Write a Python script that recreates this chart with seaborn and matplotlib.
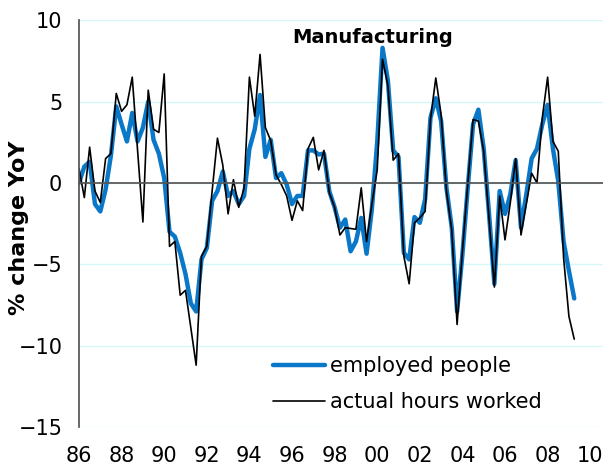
import numpy as np
import pandas as pd
import seaborn as sns
import matplotlib.pyplot as plt

# quarterly YoY % changes, 1986Q1 .. 2009Q2
START_YEAR = 1986
EMPLOYED = [
    0.0, 1.0, 1.3, -1.3, -1.75, -0.4, 1.7, 4.7, 3.6, 2.55,
    4.3, 2.55, 3.4, 5.0, 2.65, 1.8, 0.3, -3.0, -3.3, -4.3,
    -5.6, -7.4, -7.9, -4.7, -4.0, -1.1, -0.5, 0.7, -0.8, -0.5,
    -1.3, -0.8, 2.1, 3.3, 5.4, 1.6, 2.65, 0.3, 0.6, -0.1,
    -1.3, -0.8, -0.8, 2.0, 2.0, 1.75, 1.8, -0.5, -1.5, -2.75,
    -2.25, -4.2, -3.6, -2.15, -4.35, -1.6, 2.5, 8.3, 6.3, 2.0,
    1.6, -4.3, -4.7, -2.1, -2.45, -1.0, 4.0, 5.2, 3.8, -0.3,
    -2.75, -7.9, -4.4, -0.3, 3.6, 4.5, 2.1, -1.9, -6.2, -0.5,
    -1.9, -0.7, 1.4, -2.75, -0.7, 1.5, 2.1, 3.6, 4.8, 2.1,
    0.1, -3.6, -5.4, -7.1,
]
HOURS = [
    0.9, -0.9, 2.2, -0.5, -1.2, 1.5, 1.8, 5.5, 4.4, 4.8,
    6.5, 2.0, -2.4, 5.7, 3.3, 3.1, 6.7, -3.9, -3.6, -6.9,
    -6.6, -8.9, -11.2, -4.5, -3.9, -0.5, 2.75, 1.1, -1.9, 0.2,
    -1.5, -0.3, 6.5, 4.1, 7.9, 3.4, 2.6, 0.5, -0.1, -0.8,
    -2.3, -1.1, -1.7, 2.1, 2.8, 0.8, 2.0, -0.6, -1.5, -3.2,
    -2.75, -2.8, -2.85, -0.3, -3.6, -1.3, 0.8, 7.6, 6.0, 1.4,
    1.8, -4.5, -6.2, -2.45, -2.15, -1.75, 3.9, 6.45, 4.2, -0.5,
    -2.9, -8.7, -4.2, -0.1, 3.9, 3.8, 1.95, -2.2, -6.4, -0.8,
    -3.5, -1.2, 1.5, -3.2, -1.3, 0.6, 0.0, 4.0, 6.5, 2.55,
    1.95, -4.6, -8.2, -9.6,
]
YEAR_TICKS = list(range(1986, 2011, 2))
YEAR_LABELS = [f"{y % 100:02d}" for y in YEAR_TICKS]
Y_TICKS = [10, 5, 0, -5, -10, -15]

BLUE = '#0A78C8'
AXIS_GREY = '#555555'

sns.set_theme(style="white")
plt.rcParams['font.family'] = ['DejaVu Sans']
plt.rcParams['text.color'] = 'black'
plt.rcParams['axes.labelcolor'] = 'black'
plt.rcParams['xtick.color'] = 'black'
plt.rcParams['ytick.color'] = 'black'

df = pd.DataFrame({
    'quarter': START_YEAR + np.arange(len(EMPLOYED)) / 4,
    'employed': EMPLOYED,
    'hours': HOURS,
})

fig, ax = plt.subplots(figsize=(6.03, 4.70), dpi=100)
fig.subplots_adjust(left=0.131, right=1.0, top=0.957, bottom=0.0915)

sns.lineplot(data=df, x='quarter', y='employed', color=BLUE, linewidth=3.2,
             label='employed people', ax=ax)
sns.lineplot(data=df, x='quarter', y='hours', color='black', linewidth=1.2,
             label='actual hours worked', ax=ax)

ax.set_xlim(1986, 2010.6)
ax.set_ylim(-15, 10)
ax.set_yticks(Y_TICKS)
ax.set_axisbelow(True)
ax.yaxis.grid(True, color='#D6F8F8', linewidth=1)
ax.xaxis.grid(False)

for side in ('top', 'right'):
    ax.spines[side].set_visible(False)
ax.spines['left'].set_color(AXIS_GREY)
ax.spines['bottom'].set_position(('data', 0))
ax.spines['bottom'].set_color(AXIS_GREY)

# tick marks on the zero line, labels at the bottom
ax.set_xticks(YEAR_TICKS)
ax.tick_params(axis='x', direction='out', length=5, color=AXIS_GREY, labelbottom=False)
ax.tick_params(axis='y', direction='out', length=5, color=AXIS_GREY, labelsize=15, pad=7)
sec = ax.secondary_xaxis('bottom')
sec.set_xticks(YEAR_TICKS, YEAR_LABELS)
sec.tick_params(length=0, pad=14, labelsize=15)
sec.spines['bottom'].set_visible(False)

ax.set_xlabel('')
ax.set_ylabel('% change YoY', fontsize=16, fontweight='bold')
ax.yaxis.set_label_coords(-0.095, 0.49)

ax.text(0.56, 0.958, 'Manufacturing', transform=ax.transAxes, ha='center', va='center',
        fontsize=14, fontweight='bold')

ax.legend(loc='lower left', bbox_to_anchor=(0.37, 0.037), frameon=False, fontsize=15,
          handlelength=2.5, handletextpad=0.25, labelspacing=0.75,
          borderaxespad=0, borderpad=0)

plt.savefig('out.png', dpi=100)
plt.close()
